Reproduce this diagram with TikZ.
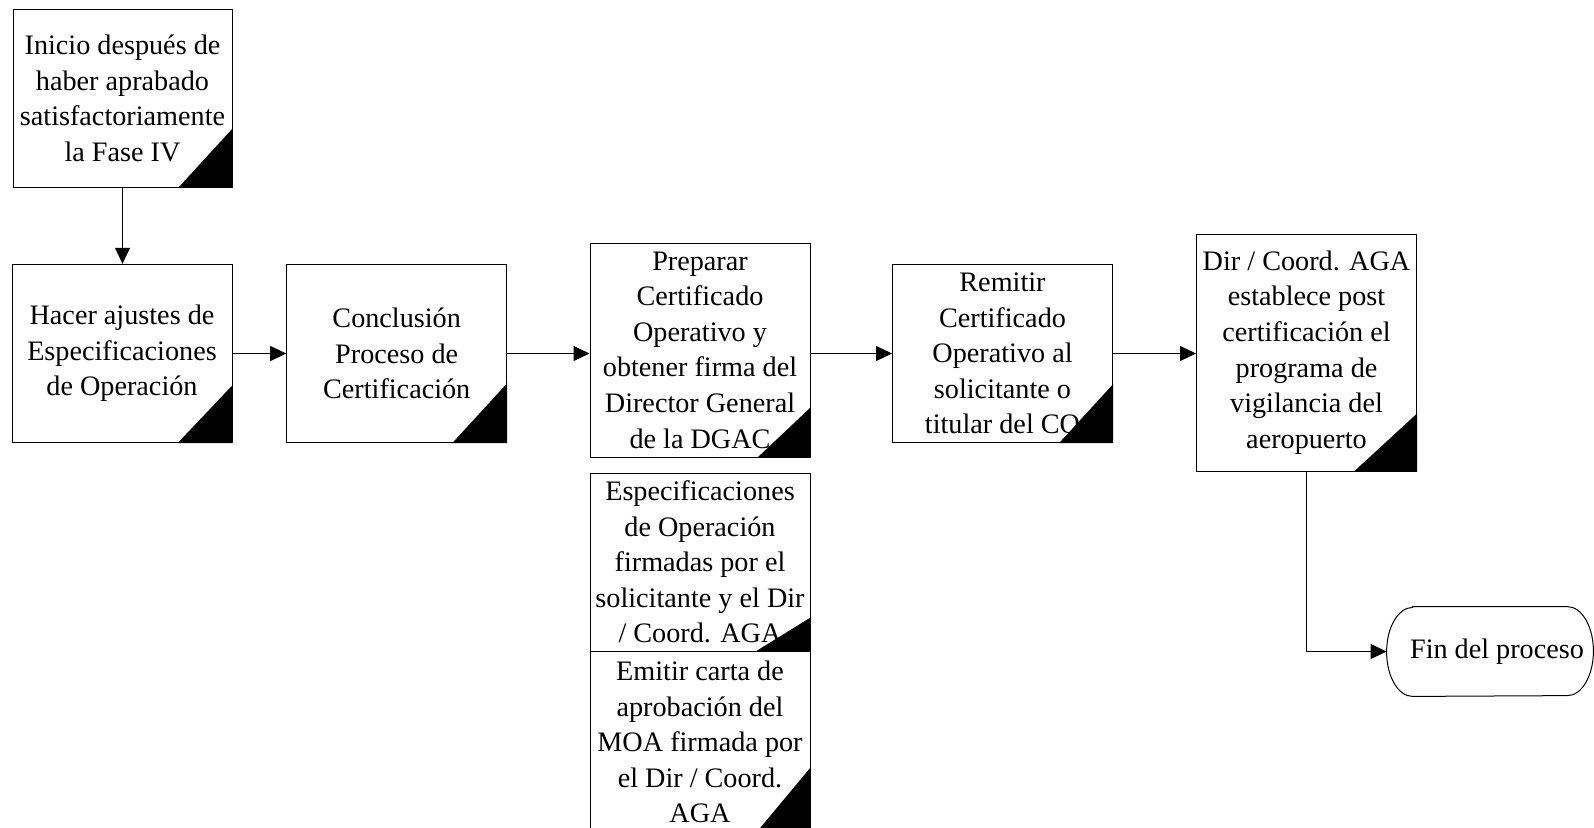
\documentclass[tikz,border=0pt]{standalone}
\usepackage{fontspec}
\setmainfont{Liberation Serif}
\usetikzlibrary{arrows.meta}
\begin{document}
\begin{tikzpicture}[x=0.5pt,y=-0.5pt,
  box/.style={draw=black, line width=0.5pt, fill=white, align=center, inner sep=0pt,
    minimum width=110pt, font=\fontsize{14.1}{17.8}\selectfont},
  conn/.style={line width=0.5pt, -{Triangle[length=8pt,width=7.5pt]}},
  corner/.style={fill=black}]
\useasboundingbox (0,0) rectangle (1594,827);
\clip (0,0) rectangle (1594,827);
\node[box, minimum width=109.5pt, minimum height=88.75pt] (b1) at (122.5,98.25)
  {Inicio después de\\haber aprabado\\satisfactoriamente\\la Fase IV};
\node[box, minimum height=89.2pt] (b2) at (122,353.5)
  {Hacer ajustes de\\Especificaciones\\de Operación};
\node[box, minimum height=89.2pt] (b3) at (396.7,353.5)
  {Conclusión\\Proceso de\\Certificación};
\node[box, minimum height=107pt] (b4) at (700,350)
  {Preparar\\Certificado\\Operativo y\\obtener firma del\\Director General\\de la DGAC};
\node[box, minimum height=89pt] (b5) at (700,562)
  {Especificaciones\\de Operación\\firmadas por el\\solicitante y el Dir\\/ Coord. AGA};
\node[box, minimum height=91pt] (b6) at (700,742)
  {Emitir carta de\\aprobación del\\MOA firmada por\\el Dir / Coord.\\AGA};
\node[box, minimum height=89.2pt] (b7) at (1002.5,353.5)
  {Remitir\\Certificado\\Operativo al\\solicitante o\\titular del CO};
\node[box, minimum height=118.4pt] (b8) at (1306.5,352.6)
  {Dir / Coord. AGA\\establece post\\certificación el\\programa de\\vigilancia del\\aeropuerto};
\node[inner sep=0pt, minimum width=103pt, minimum height=44.5pt,
  font=\fontsize{14.1}{17.8}\selectfont] (fin) at (1490,651.5) {\hspace*{7pt}Fin del proceso};
\draw[line width=0.5pt] ([xshift=13pt]fin.north west) -- ([xshift=-13pt]fin.north east)
  arc[start angle=90, end angle=-90, x radius=13pt, y radius=22.25pt]
  -- ([xshift=13pt]fin.south west)
  arc[start angle=270, end angle=90, x radius=13pt, y radius=22.25pt] -- cycle;
% corner marks
\fill[corner] (b1.south east) -- ++(-54,0) -- ++(54,-59) -- cycle;
\fill[corner] (b2.south east) -- ++(-55,0) -- ++(55,-58) -- cycle;
\fill[corner] (b3.south east) -- ++(-55,0) -- ++(55,-60) -- cycle;
\fill[corner] (b4.south east) -- ++(-53,0) -- ++(53,-50) -- cycle;
\fill[corner] (b5.south east) -- ++(-55,0) -- ++(55,-34) -- cycle;
\fill[corner] (b6.south east) -- ++(-55,0) -- ++(55,-66) -- cycle;
\fill[corner] (b7.south east) -- ++(-54,0) -- ++(54,-59) -- cycle;
\fill[corner] (b8.south east) -- ++(-63,0) -- ++(63,-58) -- cycle;
% connectors
\draw[conn] (b1.south) -- (b1.south |- b2.north);
\draw[conn] (b2.east) -- (b2.east -| b3.west);
\draw[conn] (b3.east) -- (b3.east -| b4.west);
\draw[conn] (b7.west -| b4.east) -- (b7.west);
\draw[conn] (b7.east) -- (b7.east -| b8.west);
\draw[conn] (b8.south) |- (fin.west);
\end{tikzpicture}
\end{document}
